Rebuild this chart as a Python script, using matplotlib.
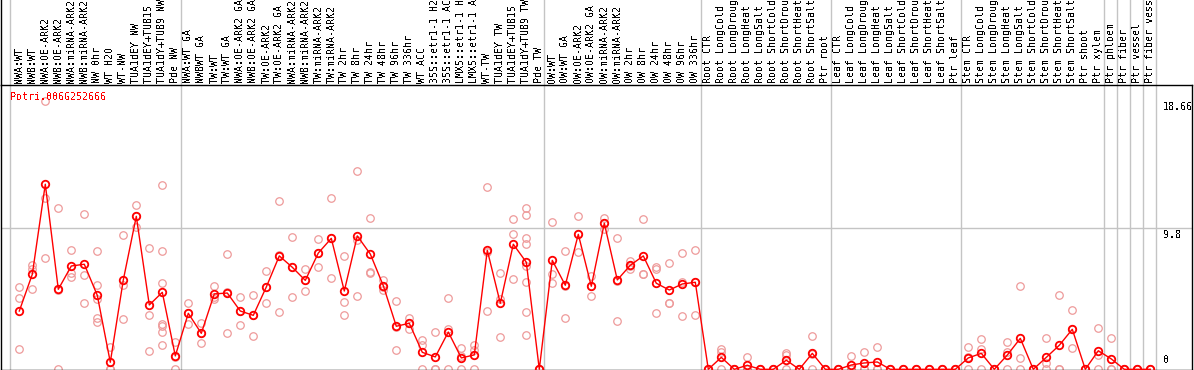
import matplotlib
matplotlib.use("Agg")
import matplotlib.pyplot as plt
from matplotlib.lines import Line2D
from matplotlib import transforms

plt.rcParams["text.antialiased"] = False

title = "Potri.006G252666"

labels = [
    "NWA:WT", "NWB:WT", "NWA:OE-ARK2", "NWB:OE-ARK2", "NWA:miRNA-ARK2", "NWB:miRNA-ARK2",
    "NW 0hr", "WT H2O", "WT-NW", "TUA1dEY NW", "TUA1dEY+TUB15 NW", "TUA1dY+TUB9 NW", "Pde NW",
    "NWA:WT GA", "NWBWT GA", "TW:WT", "TW:WT GA", "NWA:OE-ARK2 GA", "NWB:OE-ARK2 GA",
    "TW:OE-ARK2", "TW:OE-ARK2 GA", "NWA:miRNA-ARK2", "NWB:miRNA-ARK2", "TW:miRNA-ARK2",
    "TW:miRNA-ARK2", "TW 2hr", "TW 8hr", "TW 24hr", "TW 48hr", "TW 96hr", "TW 336hr", "WT ACC",
    "35S::etr1-1 H2O", "35S::etr1-1 ACC", "LMX5::etr1-1 H2O", "LMX5::etr1-1 ACC", "WT-TW",
    "TUA1dEY TW", "TUA1dEY+TUB15 TW", "TUA1dY+TUB9 TW", "Pde TW",
    "OW:WT", "OW:WT GA", "OW:OE-ARK2", "OW:OE-ARK2 GA", "OW:miRNA-ARK2", "OW:miRNA-ARK2",
    "OW 2hr", "OW 8hr", "OW 24hr", "OW 48hr", "OW 96hr", "OW 336hr",
    "Root CTR", "Root LongCold", "Root LongDrought", "Root LongHeat", "Root LongSalt",
    "Root ShortCold", "Root ShortDrought", "Root ShortHeat", "Root ShortSalt", "Ptr root",
    "Leaf CTR", "Leaf LongCold", "Leaf LongDrought", "Leaf LongHeat", "Leaf LongSalt",
    "Leaf ShortCold", "Leaf ShortDrought", "Leaf ShortHeat", "Leaf ShortSalt", "Ptr leaf",
    "Stem CTR", "Stem LongCold", "Stem LongDrought", "Stem LongHeat", "Stem LongSalt",
    "Stem ShortCold", "Stem ShortDrought", "Stem ShortHeat", "Stem ShortSalt", "Ptr shoot",
    "Ptr xylem", "Ptr phloem", "Ptr fiber", "Ptr vessel", "Ptr fiber vessel",
]

means = [
    4.05, 6.60, 12.86, 5.56, 7.18, 7.30, 5.14, 0.49, 6.21, 10.63, 4.47, 5.35, 0.93,
    3.89, 2.50, 5.24, 5.30, 4.05, 3.75, 5.72, 7.88, 7.09, 6.18, 8.08, 9.10, 5.44, 9.27,
    8.01, 5.81, 2.99, 3.20, 1.18, 0.86, 2.59, 0.79, 1.00, 8.27, 4.59, 8.69, 7.44, 0.0,
    7.57, 5.84, 9.38, 5.77, 10.15, 6.21, 7.23, 7.88, 5.98, 5.51, 5.93, 6.05,
    0.0, 0.83, 0.0, 0.28, 0.0, 0.0, 0.63, 0.0, 1.11, 0.0,
    0.0, 0.30, 0.44, 0.51, 0.0, 0.0, 0.0, 0.0, 0.0, 0.0,
    0.79, 1.11, 0.0, 0.99, 2.15, 0.0, 0.83, 1.67, 2.78, 0.0, 1.29,
    0.72, 0.0, 0.0, 0.0,
]

replicates = [
    [5.70, 4.93, 1.39], [7.27, 6.95, 5.56], [18.66, 11.88, 7.71], [11.19, 0.0, 5.49],
    [8.27, 6.72, 6.39], [10.77, 6.53, 4.59], [8.20, 5.84, 4.86, 3.54, 3.27], [1.58, 0.0, 0.0],
    [9.31, 5.86, 3.47], [11.40, 10.66, 9.87], [8.41, 3.75, 1.25],
    [12.79, 8.20, 5.98, 3.13, 3.01, 2.57, 1.67], [1.92, 0.88, 0.0],
    [4.59, 3.94, 3.13], [3.20, 2.50, 1.81], [5.77, 5.05, 4.89], [8.01, 5.40, 2.50],
    [5.00, 4.08, 3.06], [5.14, 3.75, 2.34], [6.81, 5.74, 4.59], [11.70, 7.95, 3.96],
    [9.17, 7.09, 5.00], [6.95, 6.18, 5.42], [9.03, 8.06, 7.13], [11.88, 9.10, 6.32],
    [7.85, 4.66, 3.75], [13.76, 8.99, 5.07], [10.49, 6.79, 6.67], [6.21, 5.74, 5.51],
    [4.73, 2.92, 1.32], [3.59, 3.20, 2.78], [2.06, 1.67, 0.0], [2.57, 0.0, 0.0],
    [4.93, 2.83, 0.0], [1.46, 0.90, 0.0], [1.67, 1.32, 0.0], [12.65, 8.13, 4.03],
    [6.67, 4.86, 2.22], [10.42, 9.38, 6.25],
    [11.19, 10.70, 9.10, 8.69, 7.20, 6.05, 3.98, 2.36], [0.0, 0.0, 0.0],
    [10.22, 6.60, 5.98], [8.20, 5.79, 3.54], [10.63, 9.38, 8.13], [6.46, 5.77, 5.07],
    [10.52, 10.19, 9.73], [9.10, 6.16, 3.36], [7.51, 7.18, 7.00], [10.42, 6.60, 6.60],
    [7.13, 6.97, 3.89], [7.37, 4.59, 4.59], [8.06, 6.05, 3.68], [8.27, 6.09, 3.75],
    [0.0, 0.0, 0.0], [1.39, 1.22, 0.0], [0.0, 0.0, 0.0], [0.83, 0.0, 0.0], [0.0, 0.0, 0.0],
    [0.0, 0.0, 0.0], [1.11, 0.99, 0.0], [0.0, 0.0, 0.0], [2.31, 1.04, 0.0], [0.0, 0.0, 0.0],
    [0.0, 0.0, 0.0], [0.92, 0.0, 0.0], [1.22, 0.0, 0.0], [1.53, 0.0, 0.0], [0.0, 0.0, 0.0],
    [0.0, 0.0, 0.0], [0.0, 0.0, 0.0], [0.0, 0.0, 0.0], [0.0, 0.0, 0.0], [0.0, 0.0, 0.0],
    [1.53, 0.88, 0.0], [2.08, 1.39, 0.0], [0.0, 0.0, 0.0], [1.88, 1.22, 0.0],
    [5.79, 0.76, 0.0], [0.0, 0.0, 0.0], [2.15, 0.42, 0.0], [5.16, 0.0, 0.0],
    [4.10, 2.78, 1.46], [0.0, 0.0, 0.0], [2.85, 0.99, 0.0],
    [2.15, 0.0, 0.0], [0.0, 0.0, 0.0], [0.0, 0.0, 0.0], [0.0, 0.0, 0.0],
]

ytick_values = [0, 9.8, 18.66]
ytick_labels = ["0", "9.8", "18.66"]

# ---- layout ----
W, H = 1194, 370
dpi = 100
fig = plt.figure(figsize=(W / dpi, H / dpi), dpi=dpi)
left_px, right_px, top_px, bottom_px = 1, 1192, 85, 369.5
ax = fig.add_axes([left_px / W, (H - bottom_px) / H,
                   (right_px - left_px) / W, (bottom_px - top_px) / H])

col0_px, col_w = 19.3, 13.0
xmin = -(col0_px - left_px) / col_w
xmax = xmin + (right_px - left_px) / col_w
px_per_unit = 14.39
ymin = -(bottom_px - 369.3) / px_per_unit
ymax = (369.3 - top_px) / px_per_unit
ax.set_xlim(xmin, xmax)
ax.set_ylim(ymin, ymax)
ax.set_xticks([])
ax.set_yticks([])
for s in ax.spines.values():
    s.set_color("black")
    s.set_linewidth(1.0)

mono = "DejaVu Sans Mono"
fs = 7.2
grey = "#c4c4c4"
rep_color = "#ee9a9a"
red = "#ff0000"

ax_h_px = bottom_px - top_px
y_top_frac = bottom_px / ax_h_px

# separators
separators = [-0.72, 12.4, 40.4, 52.42, 62.42, 72.42, 83.4, 84.4, 85.4, 86.4, 87.42]
for sx in separators:
    ax.axvline(sx, ymin=0, ymax=y_top_frac, color=grey, lw=1.0, clip_on=False, zorder=0)

# 9.8 gridline
ax.axhline(ytick_values[1], color=grey, lw=1.0, zorder=0)

# left border extending through header
fig.add_artist(Line2D([left_px / W, left_px / W], [(H - top_px) / H, 1.0],
                      color="black", lw=1.0, transform=fig.transFigure))

# replicate points
for i, reps in enumerate(replicates):
    ax.plot([i] * len(reps), reps, linestyle="none", marker="o", ms=5.4,
            mfc="none", mec=rep_color, mew=0.9, zorder=2)

# mean line
xs = list(range(len(means)))
ax.plot(xs, means, color=red, lw=1.0, marker="o", ms=5.4, mfc="none",
        mec=red, mew=1.3, zorder=3)

# column labels
lab_tr = transforms.blended_transform_factory(ax.transData, ax.transAxes)
for i, lab in enumerate(labels):
    ax.text(i, 1 + 2.3 / ax_h_px, lab, rotation=90, ha="center", va="bottom",
            fontsize=fs, family=mono, transform=lab_tr, clip_on=False)

# title
fig.text(10 / W, 1 - 100.5 / H, title, color=red, fontsize=fs, family=mono,
         ha="left", va="baseline")

# y tick labels (right side)
ytr = transforms.blended_transform_factory(ax.transAxes, ax.transData)
xlab = (1163 - left_px) / (right_px - left_px)
for v, t in zip(ytick_values, ytick_labels):
    if v == 0:
        off = transforms.ScaledTranslation(0, 4.5 / dpi, fig.dpi_scale_trans)
        ax.text(xlab, v, t, ha="left", va="bottom", fontsize=fs, family=mono,
                transform=ytr + off, clip_on=False)
    else:
        off = transforms.ScaledTranslation(0, -1.5 / dpi, fig.dpi_scale_trans)
        ax.text(xlab, v, t, ha="left", va="top", fontsize=fs, family=mono,
                transform=ytr + off, clip_on=False)

fig.savefig("out.png", dpi=dpi)
